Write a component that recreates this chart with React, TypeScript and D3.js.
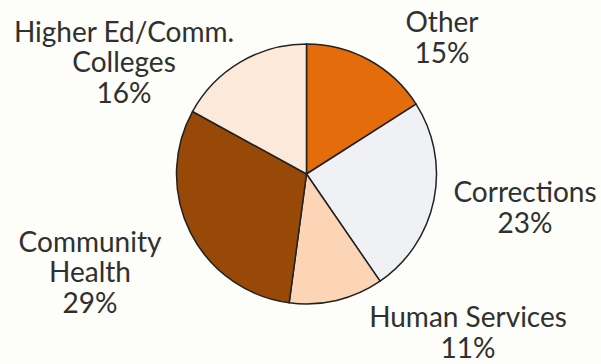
import React from "react";
import * as d3 from "d3";

const categories = ["Other", "Corrections", "Human Services", "Community Health", "Higher Ed/Comm. Colleges"];
const values = [15, 23, 11, 29, 16];
const labelLines = [["Other"], ["Corrections"], ["Human Services"], ["Community", "Health"], ["Higher Ed/Comm.", "Colleges"]];
const percentLabels = ["15%", "23%", "11%", "29%", "16%"];
const colors = ["#E46C0A", "#EFF1F4", "#FBD5B5", "#984807", "#FDE9DA"];

// layout (label block centres relative to pie centre)
const labelOffsets: [number, number][] = [
  [135.5, -136.5],
  [218.5, 33.5],
  [161.5, 158.5],
  [-216.5, 98],
  [-182.5, -112],
];

const W = 601;
const H = 364;
const cx = 306.5;
const cy = 174;
const R = 130;
const FONT = 28;
const LINE = 30.5;

export default function App() {
  const data = categories.map((c, i) => ({ c, v: values[i], i }));
  const pie = d3.pie<any>().value((d) => d.v).sort(null).startAngle(0);
  const arcs = pie(data);
  const arc = d3.arc<any>().innerRadius(0).outerRadius(R);
  return (
    <svg width={W} height={H} style={{ position: "absolute", left: 0, top: 0, background: "#FDFDF9" }}>
      <g transform={`translate(${cx},${cy})`}>
        {arcs.map((a, i) => (
          <path key={i} d={arc(a) as string} fill={colors[i]} stroke="#222" strokeWidth={1.5} strokeLinejoin="round" />
        ))}
        {arcs.map((a, i) => {
          const lines = [...labelLines[i], percentLabels[i]];
          const [ox, oy] = labelOffsets[i];
          const top = oy - ((lines.length - 1) * LINE) / 2;
          return (
            <text key={"t" + i} textAnchor="middle" fontFamily="Lato, sans-serif" fontSize={FONT} fill="#303030">
              {lines.map((l, j) => (
                <tspan key={j} x={ox} y={top + j * LINE + FONT * 0.36}>
                  {l}
                </tspan>
              ))}
            </text>
          );
        })}
      </g>
    </svg>
  );
}
